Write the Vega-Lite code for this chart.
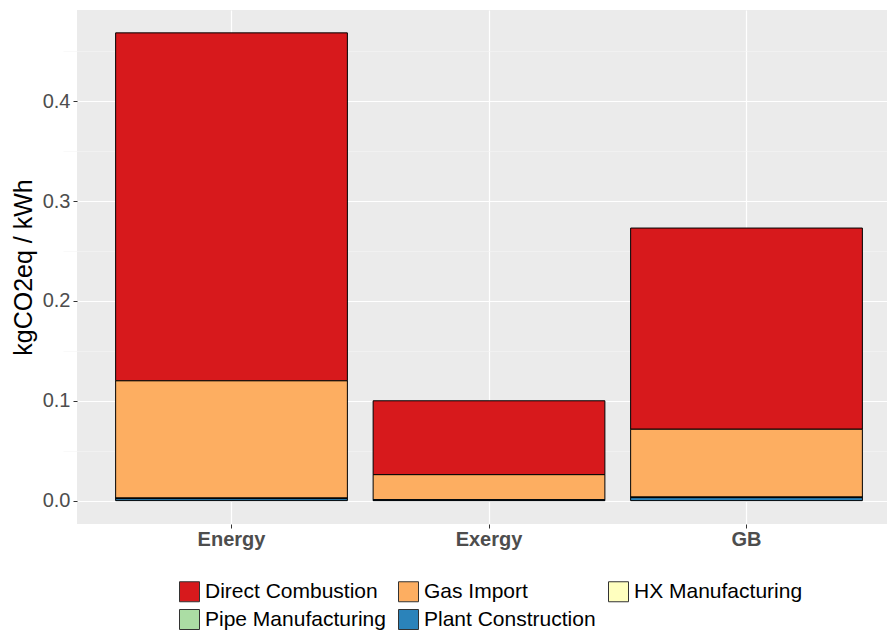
{
  "$schema": "https://vega.github.io/schema/vega-lite/v6.json",
  "autosize": {"type": "none"},
  "padding": {"left": 77, "top": 10, "right": 0, "bottom": 106},
  "width": 810,
  "height": 514,
  "background": "white",
  "config": {
    "view": {"fill": "#EBEBEB", "stroke": null},
    "font": "Liberation Sans"
  },
  "data": {
    "values": [
      {"method": "Energy", "source": "Direct Combustion", "value": 0.3485},
      {"method": "Energy", "source": "Gas Import", "value": 0.1175},
      {"method": "Energy", "source": "HX Manufacturing", "value": 0.0002},
      {"method": "Energy", "source": "Pipe Manufacturing", "value": 0.0003},
      {"method": "Energy", "source": "Plant Construction", "value": 0.002},
      {"method": "Exergy", "source": "Direct Combustion", "value": 0.074},
      {"method": "Exergy", "source": "Gas Import", "value": 0.025},
      {"method": "Exergy", "source": "HX Manufacturing", "value": 0.0001},
      {"method": "Exergy", "source": "Pipe Manufacturing", "value": 0.0001},
      {"method": "Exergy", "source": "Plant Construction", "value": 0.0008},
      {"method": "GB", "source": "Direct Combustion", "value": 0.2015},
      {"method": "GB", "source": "Gas Import", "value": 0.068},
      {"method": "GB", "source": "HX Manufacturing", "value": 0.0002},
      {"method": "GB", "source": "Pipe Manufacturing", "value": 0.0003},
      {"method": "GB", "source": "Plant Construction", "value": 0.003}
    ]
  },
  "layer": [
    {
      "mark": {"type": "bar", "opacity": 0},
      "encoding": {
        "x": {"field": "method", "type": "nominal", "scale": {"range": [0, 824], "paddingInner": 0.1, "paddingOuter": 0.15}},
        "y": {
          "field": "value", "type": "quantitative", "aggregate": "sum",
          "scale": {"domain": [-0.0234, 0.4914], "nice": false, "zero": false},
          "axis": {
            "orient": "right", "values": [0.05, 0.15, 0.25, 0.35, 0.45],
            "labels": false, "ticks": false, "domain": false, "title": null,
            "grid": true, "gridColor": "#F5F5F5", "gridWidth": 0.6
          }
        }
      }
    },
    {
      "mark": {"type": "bar", "stroke": "black", "strokeWidth": 1},
      "encoding": {
        "x": {
          "field": "method", "type": "nominal",
          "scale": {"range": [0, 824], "paddingInner": 0.1, "paddingOuter": 0.15},
          "axis": {
            "title": null, "labelAngle": 0, "labelAlign": "center", "labelBaseline": "top",
            "labelFontSize": 20, "labelFontWeight": "bold",
            "labelColor": "#4D4D4D", "labelPadding": 1, "tickColor": "#333333", "tickSize": 4,
            "domain": false, "grid": true, "gridColor": "white", "gridWidth": 1.2, "bandPosition": 0.5
          }
        },
        "y": {
          "field": "value", "type": "quantitative",
          "scale": {"domain": [-0.0234, 0.4914], "nice": false, "zero": false},
          "axis": {
            "title": "kgCO2eq / kWh", "titleFontSize": 25, "titleFontWeight": "normal", "titleColor": "black",
            "titlePadding": 6,
            "values": [0, 0.1, 0.2, 0.3, 0.4], "format": ".1f",
            "labelFontSize": 20, "labelColor": "#4D4D4D", "labelPadding": 3,
            "tickColor": "#333333", "tickSize": 4, "domain": false,
            "grid": true, "gridColor": "white", "gridWidth": 1.2
          }
        },
        "color": {
          "field": "source", "type": "nominal",
          "scale": {
            "domain": ["Direct Combustion", "Gas Import", "HX Manufacturing", "Pipe Manufacturing", "Plant Construction"],
            "range": ["#D7191C", "#FDAE61", "#FFFFBF", "#ABDDA4", "#2B83BA"]
          },
          "legend": {
            "title": null, "orient": "none", "direction": "horizontal", "columns": 3,
            "legendX": 102, "legendY": 571,
            "symbolType": "square", "symbolSize": 400, "symbolStrokeColor": "#333333", "symbolStrokeWidth": 1,
            "symbolOpacity": 1,
            "labelFontSize": 21, "labelColor": "black", "labelOffset": 5, "labelLimit": 300,
            "columnPadding": 10, "rowPadding": 3
          }
        },
        "order": {"field": "source", "sort": "descending"}
      }
    }
  ],
  "resolve": {"axis": {"y": "independent"}}
}
